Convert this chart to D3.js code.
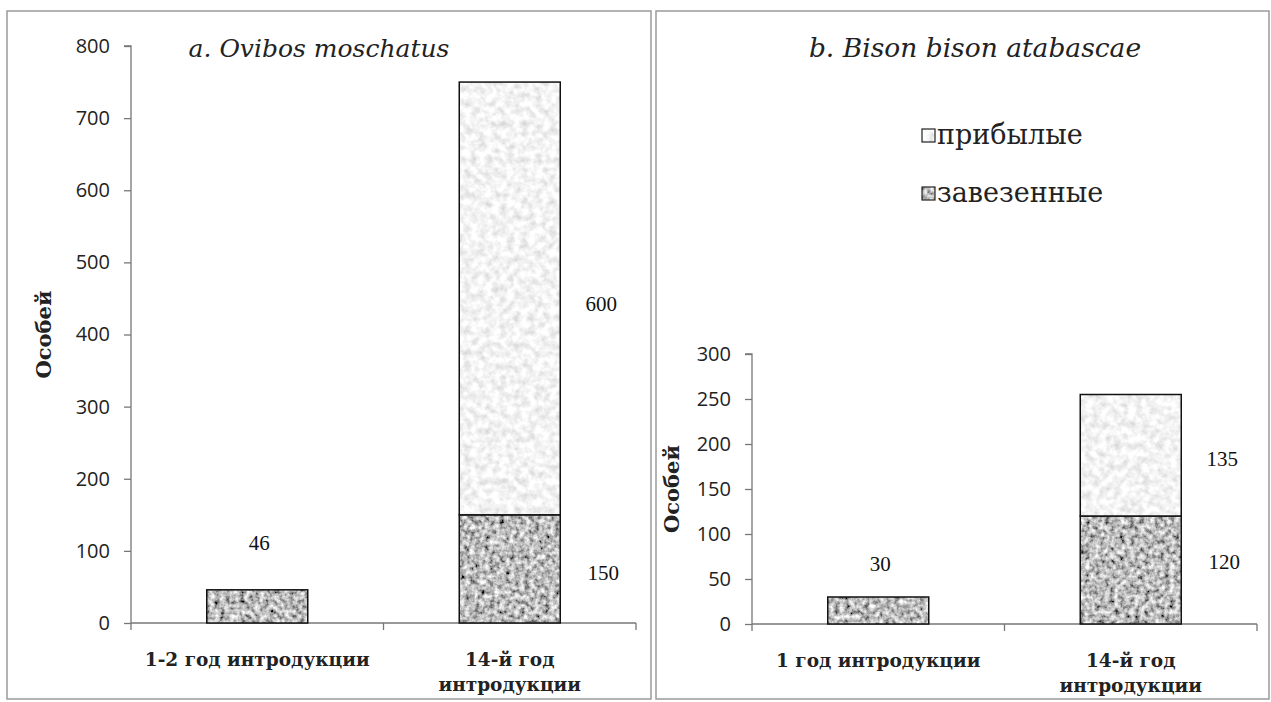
<!DOCTYPE html>
<html>
<head>
<meta charset="utf-8">
<script src="https://cdn.jsdelivr.net/npm/d3@7"></script>
<style>
  html, body { margin: 0; padding: 0; background: #fff; }
  svg { display: block; }
</style>
</head>
<body>
<svg id="chart" width="1271" height="702"></svg>
<script>
// ---- DATA ----
const titleA = "a. Ovibos moschatus";
const categoriesA = [["1-2 год интродукции"], ["14-й год", "интродукции"]];
const importedA = [46, 150];   // завезенные
const bornA = [0, 600];        // прибылые
const ticksA = [0, 100, 200, 300, 400, 500, 600, 700, 800];

const titleB = "b. Bison bison atabascae";
const categoriesB = [["1 год интродукции"], ["14-й год", "интродукции"]];
const importedB = [30, 120];
const bornB = [0, 135];
const ticksB = [0, 50, 100, 150, 200, 250, 300];

const yTitle = "Особей";
const legendLabels = ["прибылые", "завезенные"];

// ---- DRAWING ----
const svg = d3.select("#chart");
const defs = svg.append("defs");

function noiseFilter(id, freq, seed, slope, intercept) {
  const f = defs.append("filter").attr("id", id)
    .attr("x", 0).attr("y", 0).attr("width", 1).attr("height", 1);
  f.append("feTurbulence").attr("type", "fractalNoise")
    .attr("baseFrequency", freq).attr("numOctaves", 3).attr("seed", seed)
    .attr("result", "noise");
  const m = `${slope} 0 0 0 ${intercept}  ${slope} 0 0 0 ${intercept}  ${slope} 0 0 0 ${intercept}  0 0 0 0 1`;
  f.append("feColorMatrix").attr("in", "noise").attr("type", "matrix").attr("values", m).attr("result", "gray");
  f.append("feComposite").attr("in", "gray").attr("in2", "SourceGraphic").attr("operator", "in");
}
noiseFilter("darkNoise", 0.2, 3, 1.55, -0.26);
noiseFilter("lightNoise", 0.14, 7, 0.6, 0.6);

const serif = "'DejaVu Serif', serif";
const numSerif = "'Liberation Serif', serif";
const sans = "'Open Sans', sans-serif";

function panel(cfg) {
  const g = svg.append("g");
  // frame
  g.append("rect").attr("x", cfg.frame[0]).attr("y", cfg.frame[1])
    .attr("width", cfg.frame[2]).attr("height", cfg.frame[3])
    .attr("fill", "none").attr("stroke", "#9a9a9a").attr("stroke-width", 1.5);

  const y = d3.scaleLinear().domain([0, d3.max(cfg.ticks)]).range([cfg.y0, cfg.yTop]);
  const x = d3.scaleBand().domain(d3.range(cfg.categories.length))
    .range([cfg.x0, cfg.x1]).paddingInner(0.6).paddingOuter(0.3);

  // y axis
  const ya = g.append("g").attr("transform", `translate(${cfg.x0},0)`)
    .call(d3.axisLeft(y).tickValues(cfg.ticks).tickSize(7).tickPadding(14).tickFormat(d3.format("d")));
  ya.select(".domain").attr("stroke", "#777").attr("stroke-width", 1.3)
    .attr("d", `M-7,${cfg.yTop}H0V${cfg.y0 + 7}`);
  ya.selectAll(".tick line").attr("stroke", "#777").attr("stroke-width", 1.3);
  ya.selectAll(".tick text").attr("font-family", sans).attr("font-size", 20).attr("fill", "#222");

  // x axis line with ticks at band borders
  const step = x.step();
  const borders = d3.range(cfg.categories.length + 1).map(i => cfg.x0 + i * step);
  g.append("line").attr("x1", cfg.x0).attr("x2", cfg.x1).attr("y1", cfg.y0).attr("y2", cfg.y0)
    .attr("stroke", "#777").attr("stroke-width", 1.3);
  g.selectAll(".xt").data(borders.slice(1)).join("line")
    .attr("x1", d => d).attr("x2", d => d).attr("y1", cfg.y0).attr("y2", cfg.y0 + 7)
    .attr("stroke", "#777").attr("stroke-width", 1.3);

  // bars
  const stacks = cfg.imported.map((v, i) => ({ i, imp: v, born: cfg.born[i] }));
  stacks.forEach(s => {
    const bx = x(s.i), bw = x.bandwidth();
    g.append("rect").attr("x", bx).attr("width", bw)
      .attr("y", y(s.imp)).attr("height", y(0) - y(s.imp))
      .attr("fill", "#888").attr("filter", "url(#darkNoise)");
    g.append("rect").attr("x", bx).attr("width", bw)
      .attr("y", y(s.imp)).attr("height", y(0) - y(s.imp))
      .attr("fill", "none").attr("stroke", "#111").attr("stroke-width", 1.5);
    if (s.born > 0) {
      g.append("rect").attr("x", bx).attr("width", bw)
        .attr("y", y(s.imp + s.born)).attr("height", y(s.imp) - y(s.imp + s.born))
        .attr("fill", "#eee").attr("filter", "url(#lightNoise)");
      g.append("rect").attr("x", bx).attr("width", bw)
        .attr("y", y(s.imp + s.born)).attr("height", y(s.imp) - y(s.imp + s.born))
        .attr("fill", "none").attr("stroke", "#111").attr("stroke-width", 1.5);
      // labels to the right
      g.append("text").attr("x", bx + bw + 41).attr("y", y(s.imp + s.born / 2) + cfg.upperDy)
        .attr("dy", "0.35em").attr("text-anchor", "middle")
        .attr("font-family", numSerif).attr("font-size", 21).attr("fill", "#111").text(s.born);
      g.append("text").attr("x", bx + bw + 43).attr("y", y(s.imp / 2) + cfg.lowerDy)
        .attr("dy", "0.35em").attr("text-anchor", "middle")
        .attr("font-family", numSerif).attr("font-size", 21).attr("fill", "#111").text(s.imp);
    } else {
      g.append("text").attr("x", bx + bw / 2 + 2).attr("y", y(s.imp) - cfg.topLabelGap)
        .attr("dy", "0.35em").attr("text-anchor", "middle")
        .attr("font-family", numSerif).attr("font-size", 21).attr("fill", "#111").text(s.imp);
    }
  });

  // category labels
  cfg.categories.forEach((lines, i) => {
    const t = g.append("text").attr("x", x(i) + x.bandwidth() / 2).attr("y", cfg.y0 + 43)
      .attr("text-anchor", "middle").attr("font-family", serif).attr("font-weight", "bold")
      .attr("font-size", 18.5).attr("fill", "#222");
    lines.forEach((l, k) => t.append("tspan").attr("x", x(i) + x.bandwidth() / 2)
      .attr("dy", k === 0 ? 0 : 25).text(l));
  });

  // y title
  g.append("text").attr("transform", `translate(${cfg.yTitleX},${(cfg.y0 + cfg.yTop) / 2}) rotate(-90)`)
    .attr("text-anchor", "middle").attr("font-family", serif).attr("font-weight", "bold")
    .attr("font-size", 21).attr("fill", "#222").text(yTitle);

  // title
  g.append("text").attr("x", cfg.titleX).attr("y", 57).attr("text-anchor", "middle")
    .attr("font-family", serif).attr("font-style", "italic").attr("font-size", cfg.titleSize)
    .attr("fill", "#222").text(cfg.title);
  return { x, y };
}

panel({
  frame: [7, 11, 644, 688], title: titleA, titleX: 319, titleSize: 25,
  categories: categoriesA, imported: importedA, born: bornA, ticks: ticksA,
  x0: 131, x1: 636, y0: 623, yTop: 46, yTitleX: 51, topLabelGap: 47, upperDy: 5, lowerDy: 4
});
panel({
  frame: [656, 11, 613, 688], title: titleB, titleX: 975, titleSize: 26.5,
  categories: categoriesB, imported: importedB, born: bornB, ticks: ticksB,
  x0: 752, x1: 1257, y0: 624, yTop: 354, yTitleX: 679, topLabelGap: 33, upperDy: 3, lowerDy: -8
});

// legend
const legend = svg.append("g");
const legendFilters = ["url(#lightNoise)", "url(#darkNoise)"];
const legendFills = ["#eee", "#888"];
legendLabels.forEach((lab, i) => {
  const cy = 135 + i * 58;
  legend.append("rect").attr("x", 922).attr("y", cy - 6).attr("width", 13).attr("height", 13)
    .attr("fill", legendFills[i]).attr("filter", legendFilters[i]);
  legend.append("rect").attr("x", 922).attr("y", cy - 6).attr("width", 13).attr("height", 13)
    .attr("fill", "none").attr("stroke", "#222").attr("stroke-width", 1.2);
  legend.append("text").attr("x", 937).attr("y", cy).attr("dy", "0.32em")
    .attr("font-family", serif).attr("font-size", 27).attr("fill", "#222").text(lab);
});
</script>
</body>
</html>
